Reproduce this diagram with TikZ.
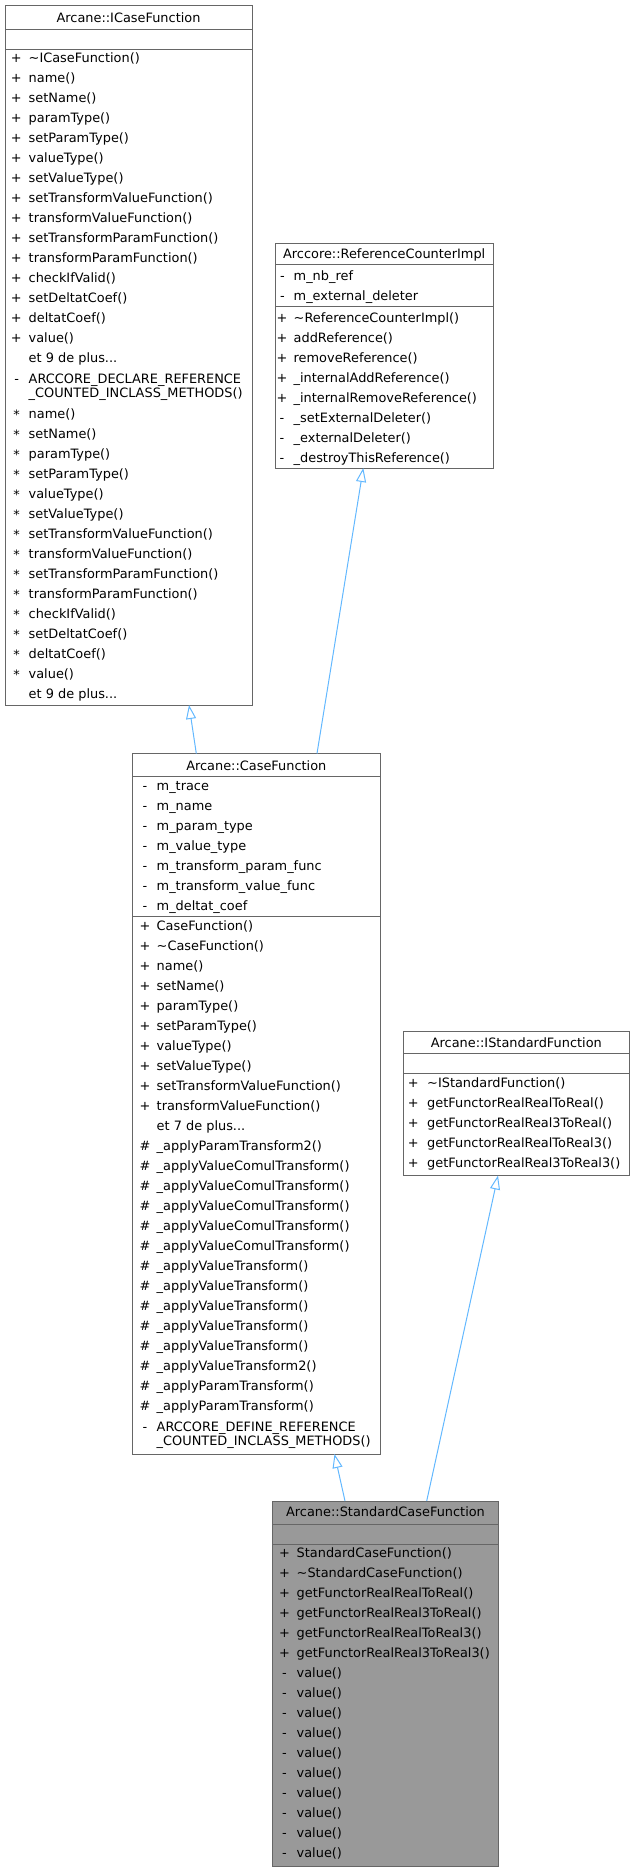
\documentclass[tikz,border=0pt]{standalone}
\usepackage{fontspec}
\setmainfont{DejaVu Sans}
\usetikzlibrary{arrows.meta}
\definecolor{boxgray}{HTML}{666666}
\definecolor{edgeblue}{HTML}{63B8FF}
\definecolor{hlfill}{HTML}{999999}
\newcommand\umlfont{\fontsize{12.9}{15}\selectfont}
\begin{document}
\begin{tikzpicture}[x=1pt,y=-1pt,
  umlbox/.style={draw=boxgray, line width=1pt, fill=white, rectangle, inner sep=0pt, outer sep=0pt, anchor=north west},
  sepline/.style={draw=boxgray, line width=1pt},
  titletxt/.style={inner sep=0pt, anchor=mid, yshift=-2pt, font=\umlfont},
  symtxt/.style={inner sep=0pt, anchor=mid, yshift=-2.5pt, font=\umlfont},
  itemtxt/.style={inner sep=0pt, anchor=mid west, yshift=-2.5pt, font=\umlfont},
  inherit/.style={draw=edgeblue, line width=1pt, -{Triangle[open, length=14pt, width=10pt]}},
]
\useasboundingbox (0,0) rectangle (635,1872);

% ---------------- Arcane::ICaseFunction ----------------
\node[umlbox, minimum width=247pt, minimum height=700pt] (icase) at (5,5) {};
\draw[sepline] (icase.west |- 0,29) -- (icase.east |- 0,29);
\draw[sepline] (icase.west |- 0,49) -- (icase.east |- 0,49);
\node[titletxt] (icase-title) at (128.5,17.5) {Arcane::ICaseFunction};
\foreach [count=\k from 0] \t in {{\textasciitilde ICaseFunction()}, name(), setName(), paramType(), setParamType(), valueType(), setValueType(), setTransformValueFunction(), transformValueFunction(), setTransformParamFunction(), transformParamFunction(), checkIfValid(), setDeltatCoef(), deltatCoef(), value()} {
  \node[symtxt] (icA-s\k) at (16.3,{57+20*\k}) {+};
  \node[itemtxt] (icA-t\k) at (28.5,{57+20*\k}) {\t};
}
\node[itemtxt] (icA-more) at (28.5,357) {et 9 de plus...};
\node[symtxt] (icB-s) at (16.6,378.3) {-};
\node[itemtxt] (icB-t1) at (28.5,378.3) {ARCCORE\_DECLARE\_REFERENCE};
\node[itemtxt] (icB-t2) at (28.5,392.7) {\_COUNTED\_INCLASS\_METHODS()};
\foreach [count=\k from 0] \t in {name(), setName(), paramType(), setParamType(), valueType(), setValueType(), setTransformValueFunction(), transformValueFunction(), setTransformParamFunction(), transformParamFunction(), checkIfValid(), setDeltatCoef(), deltatCoef(), value()} {
  \node[symtxt] (icC-s\k) at (16.6,{414+20*\k}) {*};
  \node[itemtxt] (icC-t\k) at (28.5,{413+20*\k}) {\t};
}
\node[itemtxt] (icC-more) at (28.5,693) {et 9 de plus...};

% ---------------- Arccore::ReferenceCounterImpl ----------------
\node[umlbox, minimum width=217.5pt, minimum height=225pt] (ref) at (275.5,243) {};
\draw[sepline] (ref.west |- 0,264) -- (ref.east |- 0,264);
\draw[sepline] (ref.west |- 0,306) -- (ref.east |- 0,306);
\node[titletxt] (ref-title) at (384.2,254) {Arccore::ReferenceCounterImpl};
\node[symtxt] (refF-s0) at (282.5,275) {-};
\node[itemtxt] (refF-t0) at (293.5,275) {m\_nb\_ref};
\node[symtxt] (refF-s1) at (282.5,295) {-};
\node[itemtxt] (refF-t1) at (293.5,295) {m\_external\_deleter};
\foreach [count=\k from 0] \s/\t in {+/{\textasciitilde ReferenceCounterImpl()}, +/addReference(), +/removeReference(), +/{\_internalAddReference()}, +/{\_internalRemoveReference()}, -/{\_setExternalDeleter()}, -/{\_externalDeleter()}, -/{\_destroyThisReference()}} {
  \node[symtxt] (refM-s\k) at (282,{317+20*\k}) {\s};
  \node[itemtxt] (refM-t\k) at (293.5,{317+20*\k}) {\t};
}

% ---------------- Arcane::CaseFunction ----------------
\node[umlbox, minimum width=247.3pt, minimum height=700.5pt] (cf) at (132.7,753.5) {};
\draw[sepline] (cf.west |- 0,776.7) -- (cf.east |- 0,776.7);
\draw[sepline] (cf.west |- 0,916.7) -- (cf.east |- 0,916.7);
\node[titletxt] (cf-title) at (256.3,765.5) {Arcane::CaseFunction};
\foreach [count=\k from 0] \t in {m\_trace, m\_name, m\_param\_type, m\_value\_type, m\_transform\_param\_func, m\_transform\_value\_func, m\_deltat\_coef} {
  \node[symtxt] (cfF-s\k) at (145,{785.7+20*\k}) {-};
  \node[itemtxt] (cfF-t\k) at (156.5,{785.7+20*\k}) {\t};
}
\foreach [count=\k from 0] \t in {CaseFunction(), {\textasciitilde CaseFunction()}, name(), setName(), paramType(), setParamType(), valueType(), setValueType(), setTransformValueFunction(), transformValueFunction()} {
  \node[symtxt] (cfM-s\k) at (145,{925+20*\k}) {+};
  \node[itemtxt] (cfM-t\k) at (156.5,{925+20*\k}) {\t};
}
\node[itemtxt] (cfM-more) at (156.5,1125) {et 7 de plus...};
\foreach [count=\k from 0] \t in {{\_applyParamTransform2()}, {\_applyValueComulTransform()}, {\_applyValueComulTransform()}, {\_applyValueComulTransform()}, {\_applyValueComulTransform()}, {\_applyValueComulTransform()}, {\_applyValueTransform()}, {\_applyValueTransform()}, {\_applyValueTransform()}, {\_applyValueTransform()}, {\_applyValueTransform()}, {\_applyValueTransform2()}, {\_applyParamTransform()}, {\_applyParamTransform()}} {
  \node[symtxt] (cfP-s\k) at (145,{1145+20*\k}) {\#};
  \node[itemtxt] (cfP-t\k) at (156.5,{1145+20*\k}) {\t};
}
\node[symtxt] (cfD-s) at (145,1426.5) {-};
\node[itemtxt] (cfD-t1) at (156.5,1426.5) {ARCCORE\_DEFINE\_REFERENCE};
\node[itemtxt] (cfD-t2) at (156.5,1440.7) {\_COUNTED\_INCLASS\_METHODS()};

% ---------------- Arcane::IStandardFunction ----------------
\node[umlbox, minimum width=225.5pt, minimum height=143.8pt] (istd) at (403.5,1031.7) {};
\draw[sepline] (istd.west |- 0,1053.5) -- (istd.east |- 0,1053.5);
\draw[sepline] (istd.west |- 0,1073.5) -- (istd.east |- 0,1073.5);
\node[titletxt] (istd-title) at (516.3,1042.5) {Arcane::IStandardFunction};
\foreach [count=\k from 0] \t in {{\textasciitilde IStandardFunction()}, getFunctorRealRealToReal(), getFunctorRealReal3ToReal(), getFunctorRealRealToReal3(), getFunctorRealReal3ToReal3()} {
  \node[symtxt] (istd-s\k) at (413.3,{1082+20*\k}) {+};
  \node[itemtxt] (istd-t\k) at (427,{1082+20*\k}) {\t};
}

% ---------------- Arcane::StandardCaseFunction ----------------
\node[umlbox, fill=hlfill, minimum width=225.6pt, minimum height=365.7pt] (std) at (272.7,1501) {};
\draw[sepline] (std.west |- 0,1524) -- (std.east |- 0,1524);
\draw[sepline] (std.west |- 0,1544.3) -- (std.east |- 0,1544.3);
\node[titletxt] (std-title) at (385.5,1512) {Arcane::StandardCaseFunction};
\foreach [count=\k from 0] \s/\t in {+/StandardCaseFunction(), +/{\textasciitilde StandardCaseFunction()}, +/getFunctorRealRealToReal(), +/getFunctorRealReal3ToReal(), +/getFunctorRealRealToReal3(), +/getFunctorRealReal3ToReal3(), -/value(), -/value(), -/value(), -/value(), -/value(), -/value(), -/value(), -/value(), -/value(), -/value()} {
  \node[symtxt] (std-s\k) at (284.5,{1552.7+20*\k}) {\s};
  \node[itemtxt] (std-t\k) at (296.5,{1552.7+20*\k}) {\t};
}

% ---------------- inheritance connectors ----------------
\draw[inherit] ([xshift=63.6pt]cf.north west) -- ([xshift=184pt]icase.south west);
\draw[inherit] ([xshift=184.3pt]cf.north west) -- ([xshift=87.8pt]ref.south west);
\draw[inherit] ([xshift=72.3pt]std.north west) -- ([xshift=201.8pt]cf.south west);
\draw[inherit] ([xshift=154pt]std.north west) -- ([xshift=94.5pt]istd.south west);
\end{tikzpicture}
\end{document}
